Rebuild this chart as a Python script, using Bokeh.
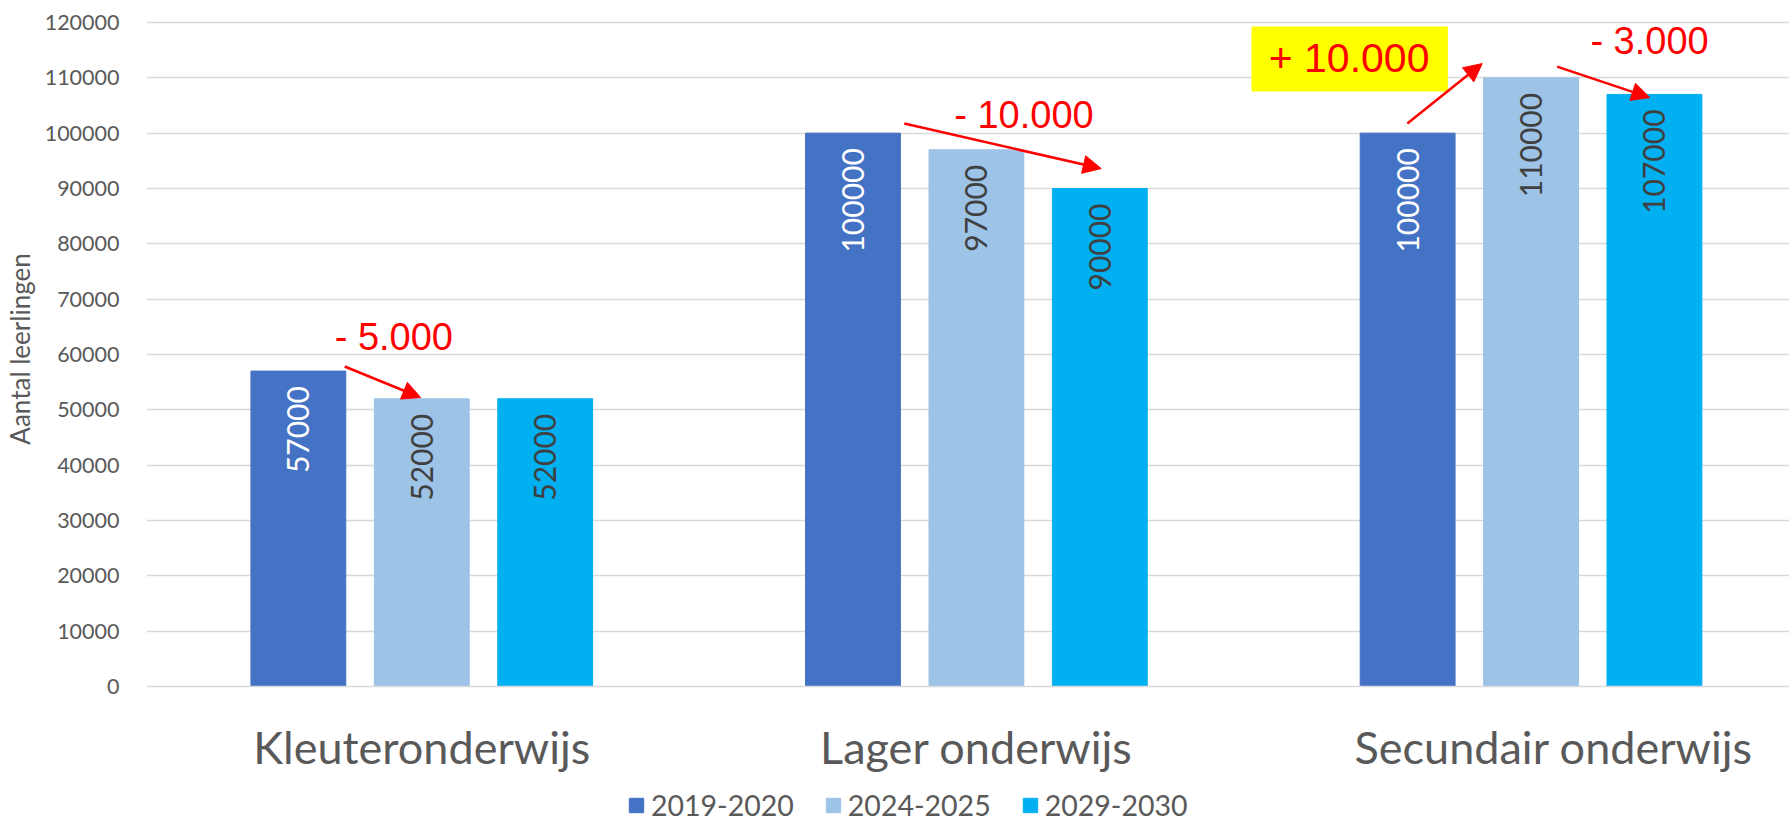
import math
from bokeh.plotting import figure
from bokeh.layouts import column
from bokeh.models import (Range1d, FixedTicker, NumeralTickFormatter, Legend, LegendItem,
                          Arrow, NormalHead, BoxAnnotation, ColumnDataSource)
from bokeh.core.properties import value
from bokeh.embed import file_html
from bokeh.resources import INLINE

# ---- data ----
categories = ["Kleuteronderwijs", "Lager onderwijs", "Secundair onderwijs"]
series_names = ["2019-2020", "2024-2025", "2029-2030"]
s2019 = [57000, 100000, 100000]
s2024 = [52000, 97000, 110000]
s2029 = [52000, 90000, 107000]
colors = ["#4472C4", "#9DC3E6", "#00B0F0"]
label_colors = ["#FFFFFF", "#404040", "#404040"]
y_ticks = [0, 10000, 20000, 30000, 40000, 50000, 60000, 70000, 80000, 90000, 100000, 110000, 120000]

# annotations (text, x, y) in data coords
ann_text = ["- 5.000", "- 10.000", "- 3.000"]
ann_x = [-0.157, 0.960, 2.107]
ann_y = [61077, 101066, 114434]
hl_text = ["+ 10.000"]
hl_x = [1.527]
hl_y = [110769]
# arrows (x_start, y_start, x_end, y_end)
arr_x0 = [-0.139, 0.870, 1.777, 2.047]
arr_y0 = [57830, 101734, 101734, 112034]
arr_x1 = [-0.002, 1.225, 1.912, 2.214]
arr_y1 = [52225, 93603, 112576, 106432]
# category label positions (third label sits slightly right of its group, as in the original)
label_pos = [0, 1, 2.041]

W = 1789
H1, H2 = 786, 36
CAL = "Lato"

p = figure(width=W, height=H1, output_backend="svg", toolbar_location=None,
           x_range=Range1d(-0.4963, 2.466), y_range=Range1d(0, 121988),
           min_border_left=143, min_border_top=11, min_border_right=0, min_border_bottom=H1 - 686)
p.outline_line_color = None
p.background_fill_color = "white"
p.border_fill_color = "white"

xs = list(range(len(categories)))
offsets = [-0.2225, 0.0, 0.2225]
bw = 0.171
for i, (vals, col) in enumerate(zip([s2019, s2024, s2029], colors)):
    src = ColumnDataSource(dict(x=[x + offsets[i] for x in xs], top=vals,
                                lab=[str(v) for v in vals]))
    p.vbar(x="x", top="top", width=bw, source=src, fill_color=col, line_color=col)
    p.text(x="x", y="top", text="lab", source=src, angle=math.pi / 2,
           text_align="right", text_baseline="middle", y_offset=15,
           text_font=value(CAL), text_font_size="30px", text_color=label_colors[i])

# y axis
p.yaxis.ticker = FixedTicker(ticks=y_ticks)
p.yaxis.formatter = NumeralTickFormatter(format="0")
p.yaxis.axis_line_color = None
p.yaxis.major_tick_line_color = None
p.yaxis.minor_tick_line_color = None
p.yaxis.major_tick_out = 0
p.yaxis.major_label_standoff = 27
p.yaxis.major_label_text_font = CAL
p.yaxis.major_label_text_font_size = "21.5px"
p.yaxis.major_label_text_color = "#595959"
p.yaxis.axis_label = "Aantal leerlingen"
p.yaxis.axis_label_text_font = CAL
p.yaxis.axis_label_text_font_size = "26px"
p.yaxis.axis_label_text_font_style = "normal"
p.yaxis.axis_label_text_color = "#595959"
p.yaxis.axis_label_standoff = 6

# x axis
p.xaxis.ticker = FixedTicker(ticks=label_pos)
p.xaxis.major_label_overrides = {pos: c for pos, c in zip(label_pos, categories)}
p.xaxis.axis_line_color = "#D9D9D9"
p.xaxis.axis_line_width = 1.5
p.xaxis.major_tick_line_color = None
p.xaxis.minor_tick_line_color = None
p.xaxis.major_tick_out = 0
p.xaxis.major_label_standoff = 33
p.xaxis.major_label_text_font = CAL
p.xaxis.major_label_text_font_size = "45px"
p.xaxis.major_label_text_color = "#595959"

p.xgrid.grid_line_color = None
p.ygrid.grid_line_color = "#D9D9D9"
p.ygrid.grid_line_width = 1.5

# yellow box behind "+ 10.000"
p.add_layout(BoxAnnotation(left=1.496, right=1.850, bottom=107517, top=119262,
                           fill_color="#FFFF00", fill_alpha=1.0, line_color=None,
                           level="underlay"))

# annotation texts
p.text(x=ann_x, y=ann_y, text=ann_text, text_align="left", text_baseline="alphabetic",
       y_offset=-12, text_font=value("Liberation Sans"), text_font_size="38px",
       text_color="#FF0000")
p.text(x=hl_x, y=hl_y, text=hl_text, text_align="left", text_baseline="alphabetic",
       y_offset=-16, text_font=value("Liberation Sans"), text_font_size="41px",
       text_color="#FF0000")

# arrows
for a, b, c, d in zip(arr_x0, arr_y0, arr_x1, arr_y1):
    p.add_layout(Arrow(x_start=a, y_start=b, x_end=c, y_end=d, line_color="#FF0000",
                       line_width=2.5,
                       end=NormalHead(size=18, fill_color="#FF0000", line_color="#FF0000")))

# legend in a strip below the chart
pl = figure(width=W, height=H2, output_backend="svg", toolbar_location=None,
            x_range=Range1d(0, 1), y_range=Range1d(0, 1), min_border=0)
pl.axis.visible = False
pl.grid.grid_line_color = None
pl.outline_line_color = None
leg_r = []
for i, (vals, col) in enumerate(zip([s2019, s2024, s2029], colors)):
    leg_r.append(pl.vbar(x=[5 + i], top=[vals[0]], width=0.5, fill_color=col, line_color=col))
legend = Legend(items=[LegendItem(label=n, renderers=[r]) for n, r in zip(series_names, leg_r)],
                orientation="horizontal", location=(481, 0),
                glyph_width=18, glyph_height=18, label_standoff=6, spacing=30,
                padding=0, margin=0, border_line_color=None, background_fill_alpha=0,
                label_text_font=CAL, label_text_font_size="28.5px", label_text_color="#595959")
pl.add_layout(legend, "center")

open("out.html", "w").write(file_html(column(p, pl, spacing=0), INLINE))
